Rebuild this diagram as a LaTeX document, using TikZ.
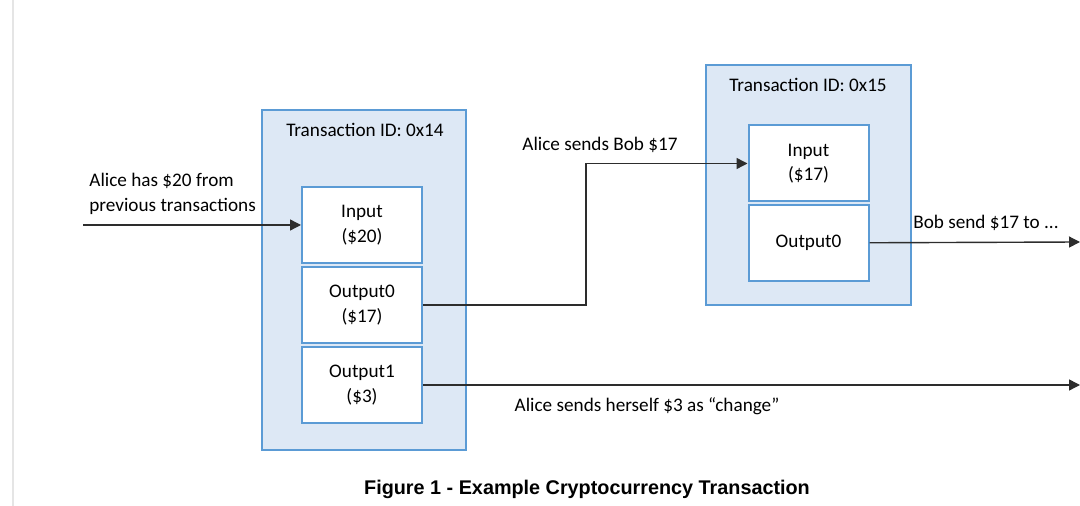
\documentclass[tikz,border=0pt]{standalone}
\usepackage{fontspec}
\setmainfont{Carlito}
\newfontfamily\capfont{Liberation Sans}
\usetikzlibrary{positioning,arrows.meta}

\definecolor{boxblue}{RGB}{91,155,213}
\definecolor{boxfill}{RGB}{221,232,245}
\definecolor{wire}{RGB}{45,45,45}

\tikzset{
  every txbox/.style={draw=boxblue, fill=boxfill, line width=1pt},
  every slot/.style={draw=boxblue, fill=white, line width=1pt,
    minimum width=60pt, minimum height=38pt, align=center},
  every note/.style={align=left, inner sep=0pt},
  every wire/.style={draw=wire, line width=0.7pt},
}

\begin{document}
\begin{tikzpicture}[x=0.5pt, y=-0.5pt, >={Triangle[length=5.5pt, width=5.5pt]},
  font=\fontsize{9.6}{12.2}\selectfont]
\useasboundingbox (0,0) rectangle (1080,506);

\draw [black!10, line width=1pt] (13,0) -- (13,506);

\node [every txbox/.try, minimum width=102pt, minimum height=170pt] (tx14) at (364,280) {};
\node [every txbox/.try, minimum width=102.5pt, minimum height=120pt] (tx15) at (808.5,185) {};

\node (tx14-title) at (365,130) {Transaction ID: 0x14};
\node (tx15-title) at (808,85) {Transaction ID: 0x15};

\foreach \m/\l [count=\y] in {in/Input\\(\$20), out0/Output0\\(\$17), out1/Output1\\(\$3)}
  \node [every slot/.try] (tx14-\m) at (362,145+\y*80) {\l};

\foreach \m/\l [count=\y] in {in/Input\\(\$17), out0/Output0}
  \node [every slot/.try] (tx15-\m) at (808.5,84+\y*79.5) {\l};

\coordinate (alice) at (83,225);
\coordinate (hop) at (586,163.5);
\coordinate (bob-end) at (1080,242);
\coordinate (change-end) at (1080,384);

\draw [every wire/.try, ->] (alice) -- (tx14-in);
\draw [every wire/.try, ->] (tx14-out0) -| (hop) -- (tx15-in);
\draw [every wire/.try, ->] (tx15-out0) -- (bob-end);
\draw [every wire/.try, ->] (tx14-out1) -- (tx14-out1 -| change-end);

\node [every note/.try, anchor=west] (alice-note) at (89,194) {Alice has \$20 from\\previous transactions};
\node (bob-note) at (600,145) {Alice sends Bob \$17};
\node (bob-next) at (986,223) {Bob send \$17 to ...};
\node (change-note) at (647,406) {Alice sends herself \$3 as “change”};

\node [font=\capfont\bfseries\fontsize{9.9}{11}\selectfont] (caption) at (587,489)
  {Figure 1 - Example Cryptocurrency Transaction};
\end{tikzpicture}
\end{document}
